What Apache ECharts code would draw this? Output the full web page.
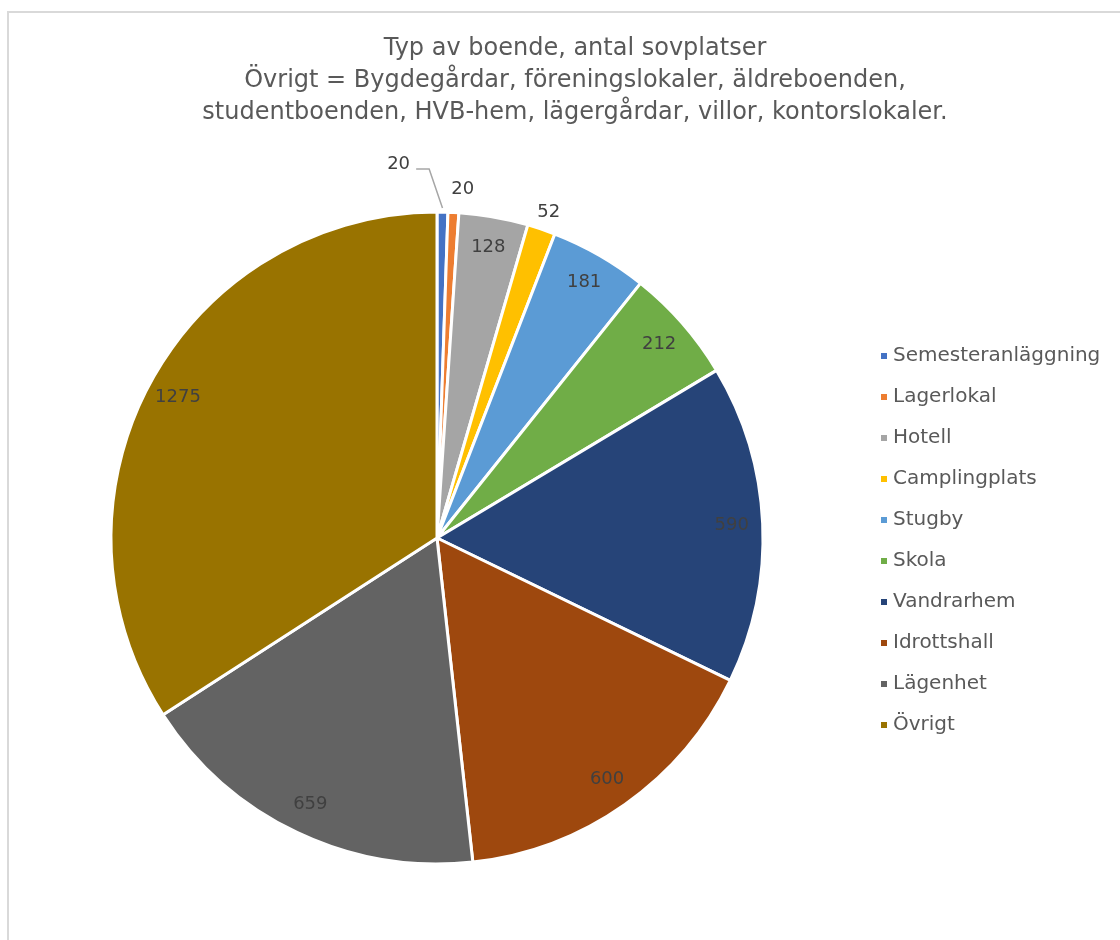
<!DOCTYPE html>
<html>
<head>
<meta charset="utf-8">
<script src="https://cdn.jsdelivr.net/npm/echarts@6/dist/echarts.min.js"></script>
<style>
html,body{margin:0;padding:0;background:#fff;}
#chart{position:absolute;left:0;top:0;width:1120px;height:940px;}
#frame{position:absolute;left:7px;top:11px;width:1200px;height:1000px;border-left:2px solid #d9d9d9;border-top:2px solid #d9d9d9;pointer-events:none;}
</style>
</head>
<body>
<div id="frame"></div>
<div id="chart"></div>
<script>
const titleLines = [
  'Typ av boende, antal sovplatser',
  'Övrigt = Bygdegårdar, föreningslokaler, äldreboenden,',
  'studentboenden, HVB-hem, lägergårdar, villor, kontorslokaler.'
];
const categories = ['Semesteranläggning','Lagerlokal','Hotell','Camplingplats','Stugby','Skola','Vandrarhem','Idrottshall','Lägenhet','Övrigt'];
const values = [20, 20, 128, 52, 181, 212, 590, 600, 659, 1275];
const colors = ['#4472C4','#ED7D31','#A5A5A5','#FFC000','#5B9BD5','#70AD47','#264478','#9E480E','#636363','#997300'];
const outsideLabels = [0, 1, 3];

const FONT = '"DejaVu Sans", "Noto Sans", sans-serif';
const chart = echarts.init(document.getElementById('chart'));

const mainData = categories.map((c, i) => ({ name: c, value: values[i], itemStyle: { color: colors[i] } }));
const lineLen = { 0: [40, 10], 1: [18, 0], 3: [12, 0] };
const labelData = categories.map((c, i) => {
  const outside = outsideLabels.includes(i);
  return {
    name: c, value: values[i],
    label: { position: outside ? 'outside' : 'inside' },
    labelLine: { show: i === 0, length: outside ? lineLen[i][0] : 0, length2: outside ? lineLen[i][1] : 0 }
  };
});

chart.setOption({
  animation: false,
  title: {
    text: titleLines.join('\n'),
    left: 570, top: 28, textAlign: 'center',
    textStyle: { fontFamily: FONT, fontSize: 24, fontWeight: 'normal', color: '#595959', lineHeight: 32 }
  },
  legend: {
    orient: 'vertical', left: 874, top: 341,
    data: categories,
    icon: 'rect', itemWidth: 8, itemHeight: 8, itemGap: 21,
    selectedMode: false,
    textStyle: { fontFamily: FONT, fontSize: 20, color: '#595959', lineHeight: 20 }
  },
  series: [
    {
      type: 'pie', name: 'main',
      center: [437, 538], radius: [0, 326],
      startAngle: 90, clockwise: true,
      avoidLabelOverlap: false,
      label: { show: false }, labelLine: { show: false },
      itemStyle: { borderColor: '#ffffff', borderWidth: 3 },
      emphasis: { disabled: true },
      data: mainData
    },
    {
      type: 'pie', name: 'labels', silent: true,
      center: [437, 538], radius: [258, 326],
      startAngle: 90, clockwise: true,
      avoidLabelOverlap: false,
      itemStyle: { color: 'rgba(0,0,0,0)', borderWidth: 0 },
      label: { show: true, formatter: '{c}', fontFamily: FONT, fontSize: 18, color: '#404040' },
      labelLine: { lineStyle: { color: '#a6a6a6', width: 1.5 } },
      labelLayout: function (p) {
        if (p.seriesIndex !== 1) return {};
        if (p.dataIndex === 0) {
          const pts = p.labelLinePoints;
          const out = { dx: -71, dy: -8 };
          if (pts && pts.length >= 2) {
            out.labelLinePoints = [
              [pts[0][0], pts[0][1] - 4],
              [pts[1][0] - 14, pts[1][1] - 3],
              [pts[1][0] - 27, pts[1][1] - 3]
            ];
          }
          return out;
        }
        if (p.dataIndex === 1) return { dx: -8, dy: -5 };
        if (p.dataIndex === 3) return { dx: -13, dy: -5 };
        return {};
      },
      emphasis: { disabled: true },
      tooltip: { show: false },
      data: labelData
    }
  ]
});
</script>
</body>
</html>
